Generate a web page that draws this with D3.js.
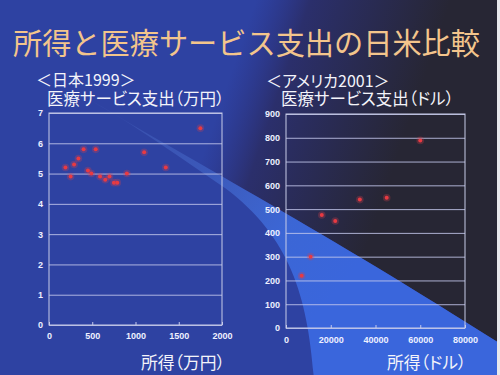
<!DOCTYPE html>
<html>
<head>
<meta charset="utf-8">
<script src="https://cdn.jsdelivr.net/npm/d3@7"></script>
<style>
  body { margin: 0; background: #fff; }
  svg { display: block; }
  .tick text { font-family: "Liberation Sans", Arial, sans-serif; font-weight: bold; font-size: 9px; fill: #eef0ff; }
  .jp { font-family: "Noto Sans CJK JP", sans-serif; }
  .rotulo { font-feature-settings: "palt"; }
</style>
</head>
<body>
<svg id="grafico" width="500" height="375"></svg>
<script>
// dados
const renda_japao = [190, 250, 290, 340, 400, 450, 490, 540, 590, 650, 700, 750, 790, 900, 1100, 1350, 1750];
const gasto_japao = [5.2, 4.9, 5.3, 5.5, 5.8, 5.1, 5.0, 5.8, 4.9, 4.8, 4.9, 4.7, 4.7, 5.0, 5.7, 5.2, 6.5];
const renda_eua = [7000, 11000, 16000, 22000, 33000, 45000, 60000];
const gasto_eua = [220, 300, 475, 450, 540, 548, 789];
const ticks_x_japao = [0, 500, 1000, 1500, 2000];
const ticks_y_japao = [0, 1, 2, 3, 4, 5, 6, 7];
const ticks_x_eua = [0, 20000, 40000, 60000, 80000];
const ticks_y_eua = [0, 100, 200, 300, 400, 500, 600, 700, 800, 900];

const svg = d3.select("#grafico");
const defs = svg.append("defs");

// fundo
const escuro = defs.append("linearGradient").attr("id", "escuro")
  .attr("gradientUnits", "userSpaceOnUse")
  .attr("x1", 225).attr("y1", 90).attr("x2", 400).attr("y2", 150);
escuro.append("stop").attr("offset", 0).attr("stop-color", "#2c3282").attr("stop-opacity", 0);
escuro.append("stop").attr("offset", 0.28).attr("stop-color", "#2b2f6c").attr("stop-opacity", 1);
escuro.append("stop").attr("offset", 1).attr("stop-color", "#272634").attr("stop-opacity", 1);

const faixa = defs.append("linearGradient").attr("id", "faixa")
  .attr("gradientUnits", "userSpaceOnUse")
  .attr("x1", 90).attr("y1", 100).attr("x2", 330).attr("y2", 300);
faixa.append("stop").attr("offset", 0).attr("stop-color", "#6a8ce0").attr("stop-opacity", 0.1);
faixa.append("stop").attr("offset", 0.45).attr("stop-color", "#4a74d8").attr("stop-opacity", 0.45);
faixa.append("stop").attr("offset", 0.75).attr("stop-color", "#3c68d8").attr("stop-opacity", 0.95);
faixa.append("stop").attr("offset", 1).attr("stop-color", "#3a66dc").attr("stop-opacity", 1);

const borda_sup = "M 90 100 C 200 165, 330 235, 510 350";
defs.append("clipPath").attr("id", "acima")
  .append("path").attr("d", borda_sup + " L 510 -10 L 90 -10 Z");

svg.append("rect").attr("width", 500).attr("height", 375).attr("fill", "#2e42a2");
svg.append("rect").attr("width", 500).attr("height", 375)
  .attr("fill", "url(#escuro)").attr("clip-path", "url(#acima)");
svg.append("path")
  .attr("d", borda_sup + " L 510 380 L 314 380 C 308 300, 292 238, 225 188 C 170 150, 120 116, 90 100 Z")
  .attr("fill", "url(#faixa)");
svg.append("rect").attr("x", 497).attr("width", 3).attr("height", 375).attr("fill", "#e8e8ec");

// titulo e textos
svg.append("text").attr("class", "jp")
  .attr("x", 13).attr("y", 54)
  .attr("font-size", 29.2).attr("fill", "#f3c58c")
  .text("所得と医療サービス支出の日米比較");

const textos = [
  ["＜日本1999＞", 36, 86, 16],
  ["医療サービス支出（万円）", 47, 105, 16.5],
  ["＜アメリカ2001＞", 266, 87, 16],
  ["医療サービス支出（ドル）", 281, 105, 16.5],
  ["所得（万円）", 141, 369, 16.8],
  ["所得（ドル）", 387, 369, 16.8]
];
svg.selectAll(".rotulo").data(textos).enter().append("text")
  .attr("class", "jp rotulo")
  .attr("x", d => d[1]).attr("y", d => d[2])
  .attr("font-size", d => d[3]).attr("fill", "#f4f4fa")
  .text(d => d[0]);

function desenhar_grafico(x0, x1, y0, y1, dom_x, dom_y, tx, ty, xs, ys, desloc_x) {
  const x = d3.scaleLinear().domain(dom_x).range([x0, x1]);
  const y = d3.scaleLinear().domain(dom_y).range([y1, y0]);
  const g = svg.append("g");

  g.append("g")
    .attr("transform", `translate(${x0},0)`)
    .call(d3.axisLeft(y).tickValues(ty).tickSize(-(x1 - x0)).tickPadding(6).tickFormat(d3.format("d")))
    .call(a => a.select(".domain").remove())
    .call(a => a.selectAll(".tick line").attr("stroke", "#c4c8ec").attr("stroke-opacity", 0.85));

  g.append("g")
    .attr("transform", `translate(0,${y1})`)
    .call(d3.axisBottom(x).tickValues(tx).tickSize(-3).tickPadding(desloc_x).tickFormat(d3.format("d")))
    .call(a => a.select(".domain").remove())
    .call(a => a.selectAll(".tick line").attr("stroke", "#c4c8ec"));

  g.append("rect")
    .attr("x", x0).attr("y", y0)
    .attr("width", x1 - x0).attr("height", y1 - y0)
    .attr("fill", "none").attr("stroke", "#c8cce8").attr("stroke-width", 1);

  const pontos = xs.map((v, i) => [v, ys[i]]);
  g.selectAll(".halo").data(pontos).enter().append("circle")
    .attr("cx", d => x(d[0])).attr("cy", d => y(d[1]))
    .attr("r", 3.8).attr("fill", "#d8404a").attr("opacity", 0.28);
  g.selectAll(".ponto").data(pontos).enter().append("circle")
    .attr("cx", d => x(d[0])).attr("cy", d => y(d[1]))
    .attr("r", 2).attr("fill", "#e83a42");
}

desenhar_grafico(49, 222, 113, 325, [0, 2000], [0, 7],
  ticks_x_japao, ticks_y_japao, renda_japao, gasto_japao, 8);
desenhar_grafico(286, 465, 114, 328, [0, 80000], [0, 900],
  ticks_x_eua, ticks_y_eua, renda_eua, gasto_eua, 9);
</script>
</body>
</html>
